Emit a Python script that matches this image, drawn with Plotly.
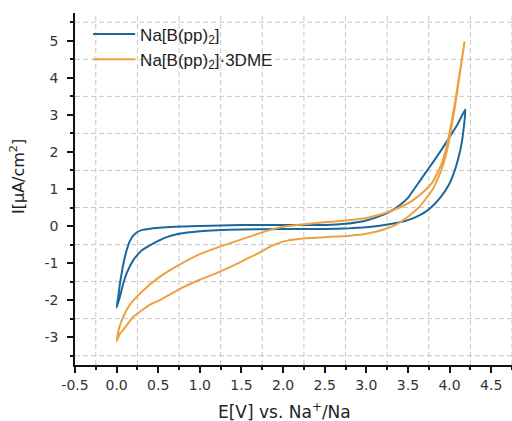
import plotly.graph_objects as go

# Cyclic voltammograms: each loop is an anodic branch (0 V -> 4.2 V) and a return branch.
blue_up_E = [0.0, 0.02, 0.04, 0.07, 0.10, 0.13, 0.16, 0.20, 0.25, 0.30, 0.40, 0.60, 0.80, 1.00, 1.50,
             2.00, 2.50, 2.75, 3.00, 3.20, 3.30, 3.40, 3.50, 3.60, 3.70, 3.80, 3.90, 4.00, 4.10, 4.19]
blue_up_I = [-2.20, -1.90, -1.55, -1.15, -0.83, -0.58, -0.40, -0.26, -0.16, -0.11, -0.07, -0.03, -0.01, 0.00, 0.03,
             0.03, 0.03, 0.06, 0.15, 0.30, 0.41, 0.56, 0.76, 1.08, 1.40, 1.72, 2.05, 2.40, 2.76, 3.15]
blue_dn_E = [4.19, 4.15, 4.10, 4.05, 4.00, 3.90, 3.80, 3.70, 3.60, 3.50, 3.40, 3.20, 3.00, 2.80, 2.50, 2.00,
             1.50, 1.20, 1.00, 0.75, 0.60, 0.50, 0.40, 0.30, 0.25, 0.20, 0.12, 0.08, 0.04, 0.0]
blue_dn_I = [3.15, 2.30, 1.78, 1.42, 1.15, 0.80, 0.55, 0.37, 0.25, 0.16, 0.10, 0.02, -0.03, -0.06, -0.08, -0.08,
             -0.09, -0.11, -0.14, -0.21, -0.30, -0.40, -0.52, -0.66, -0.78, -0.92, -1.28, -1.55, -1.90, -2.20]

orange_up_E = [0.0, 0.03, 0.08, 0.16, 0.30, 0.50, 0.75, 1.00, 1.25, 1.50, 1.75, 1.90, 2.00, 2.25, 2.50,
               2.75, 3.00, 3.20, 3.40, 3.55, 3.70, 3.80, 3.90, 3.97, 4.07, 4.18]
orange_up_I = [-3.10, -2.75, -2.45, -2.12, -1.78, -1.40, -1.05, -0.76, -0.55, -0.36, -0.17, -0.07, -0.02, 0.05, 0.10,
               0.15, 0.22, 0.33, 0.50, 0.68, 0.95, 1.20, 1.65, 2.20, 3.40, 4.98]
orange_dn_E = [4.18, 4.07, 3.97, 3.90, 3.80, 3.65, 3.50, 3.35, 3.20, 3.00, 2.80, 2.50, 2.20, 2.00, 1.85,
               1.70, 1.55, 1.50, 1.20, 1.00, 0.80, 0.50, 0.40, 0.20, 0.08, 0.04, 0.0]
orange_dn_I = [4.98, 3.30, 2.05, 1.50, 1.00, 0.55, 0.25, 0.03, -0.10, -0.21, -0.26, -0.30, -0.34, -0.42, -0.55,
               -0.74, -0.90, -0.96, -1.27, -1.45, -1.65, -2.02, -2.12, -2.45, -2.80, -2.90, -3.10]

series_names = ["Na[B(pp)<sub>2</sub>]", "Na[B(pp)<sub>2</sub>]·3DME"]
series_colors = ["#1b679b", "#eda03e"]

x_ticks = [-0.5, 0.0, 0.5, 1.0, 1.5, 2.0, 2.5, 3.0, 3.5, 4.0, 4.5]
x_tick_text = ["-0.5", "0.0", "0.5", "1.0", "1.5", "2.0", "2.5", "3.0", "3.5", "4.0", "4.5"]
x_grid = [-0.25, 0.25, 0.75, 1.25, 1.75, 2.25, 2.75, 3.25, 3.75, 4.25, 4.75]
y_ticks = [-3, -2, -1, 0, 1, 2, 3, 4, 5]
y_tick_text = ["-3", "-2", "-1", "0", "1", "2", "3", "4", "5"]
y_grid = [-3.5, -2.5, -1.5, -0.5, 0.5, 1.5, 2.5, 3.5, 4.5, 5.5]

loops = [
    (blue_up_E + blue_dn_E[1:], blue_up_I + blue_dn_I[1:]),
    (orange_up_E + orange_dn_E[1:], orange_up_I + orange_dn_I[1:]),
]

fig = go.Figure()
for (xs, ys), name, color in zip(loops, series_names, series_colors):
    fig.add_trace(go.Scatter(
        x=xs, y=ys, mode="lines", name=name,
        line=dict(color=color, width=2, shape="spline", smoothing=0.4),
    ))

# dashed grid halfway between the labelled ticks
grid_line = dict(color="#c8c8c8", width=1, dash="5px,3px")
for gx in x_grid:
    fig.add_shape(type="line", xref="x", yref="paper", x0=gx, x1=gx, y0=0, y1=1,
                  line=grid_line, layer="below")
for gy in y_grid:
    fig.add_shape(type="line", xref="paper", yref="y", x0=0, x1=1, y0=gy, y1=gy,
                  line=grid_line, layer="below")

tick_font = dict(family="DejaVu Sans", size=14, color="#333333")
axis_common = dict(
    showline=True, linecolor="#111111", linewidth=1.5,
    ticks="outside", ticklen=6, tickwidth=1.5, tickcolor="#111111",
    showgrid=False, zeroline=False, tickfont=tick_font, tickmode="array",
)
minor_common = dict(ticks="outside", ticklen=3, tickwidth=1.5, tickcolor="#111111", showgrid=False)

fig.update_xaxes(
    range=[-0.5, 4.75], tickvals=x_ticks, ticktext=x_tick_text,
    minor=dict(tick0=-0.25, dtick=0.25, **minor_common),
    **axis_common,
)
fig.update_yaxes(
    range=[-3.75, 5.75], tickvals=y_ticks, ticktext=y_tick_text,
    minor=dict(tick0=-3.5, dtick=0.5, **minor_common),
    ticklabelstandoff=6,
    **axis_common,
)

fig.add_annotation(text="E[V] vs. Na<sup>+</sup>/Na", xref="paper", yref="paper",
                   x=(284 - 75) / 437, y=-(411 - 365) / 352, showarrow=False,
                   font=dict(family="DejaVu Sans", size=17, color="#222222"),
                   xanchor="center", yanchor="middle")
fig.add_annotation(text="I[µA/cm<sup>2</sup>]", xref="paper", yref="paper",
                   x=-(75 - 17) / 437, y=(365 - 177) / 352, showarrow=False, textangle=-90,
                   font=dict(family="DejaVu Sans", size=16, color="#222222"),
                   xanchor="center", yanchor="middle")

fig.update_layout(
    width=512, height=421,
    margin=dict(l=75, r=0, t=13, b=56),
    paper_bgcolor="white", plot_bgcolor="white",
    legend=dict(x=0.03, y=0.99, xanchor="left", yanchor="top",
                font=dict(family="Liberation Sans", size=17, color="#222222"),
                bgcolor="rgba(0,0,0,0)", itemwidth=42, tracegroupgap=4),
)

fig.write_html("out.html")
